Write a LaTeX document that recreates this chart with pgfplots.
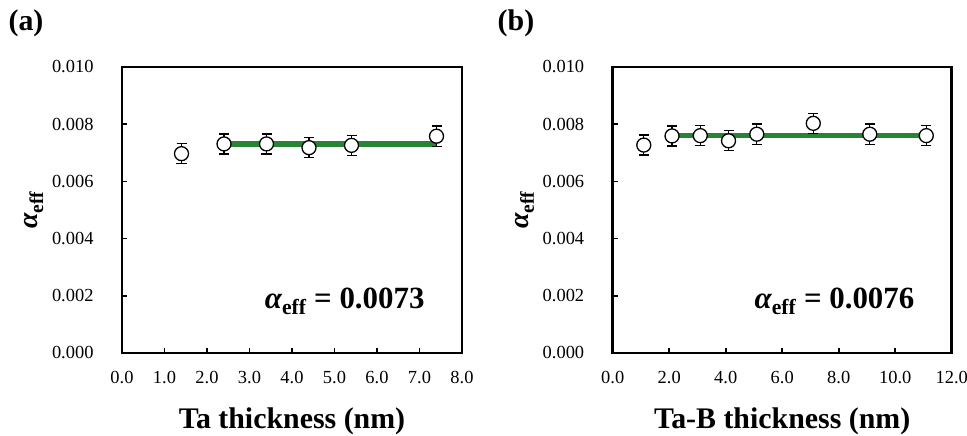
\documentclass[border=0pt]{standalone}
\usepackage{pgfplots}
\pgfplotsset{compat=1.18}
\usepackage{fontspec}
\setmainfont{Liberation Serif}
\definecolor{fitgreen}{RGB}{40,132,52}
\begin{document}
\begin{tikzpicture}
\useasboundingbox (0,0) rectangle (967bp,436bp);
\pgfplotsset{
  panel/.style={
    scale only axis, height=286bp,
    ymin=0, ymax=0.010,
    ytick={0,0.002,0.004,0.006,0.008,0.010},
    scaled y ticks=false, scaled x ticks=false,
    yticklabel style={/pgf/number format/fixed, /pgf/number format/zerofill, /pgf/number format/precision=3, xshift=-25bp},
    xticklabel style={/pgf/number format/fixed, /pgf/number format/zerofill, /pgf/number format/precision=1, yshift=-15bp},
    /pgf/number format/assume math mode=true,
    ticklabel style={font=\fontsize{18.5}{20}\selectfont},
    tick pos=left, tick align=inside, major tick length=5bp,
    tick style={line width=1.6bp, black},
    axis line style={line width=2.6bp},
    xlabel style={at={(axis description cs:0.5,0)}, anchor=base, yshift=-75bp, font=\fontsize{30}{34}\selectfont\bfseries},
    ylabel style={at={(axis description cs:0,0.5)}, anchor=base, yshift=84bp, font=\fontsize{28}{32}\selectfont\bfseries},
    ylabel={{\itshape α}\textsubscript{\upshape eff}},
    clip=false,
  },
  pts/.style={only marks, mark=*, mark size=7bp,
    mark options={fill=white, draw=black, line width=1.3bp},
    error bars/.cd, y dir=both, y explicit,
    error bar style={line width=1.4bp, black},
    error mark options={rotate=90, mark size=5bp, line width=1.4bp, black}},
}
\begin{axis}[panel, at={(122bp,83bp)}, anchor=south west, width=340bp,
  xmin=0, xmax=8, xtick={0,1,...,8}, xlabel={Ta thickness (nm)}]
\addplot[fitgreen, line width=5.5bp, forget plot] coordinates {(2.4,0.0073) (7.4,0.0073)};
\addplot[pts] coordinates {
 (1.4,0.00697) +- (0,0.00035)
 (2.4,0.00731) +- (0,0.00035)
 (3.4,0.00731) +- (0,0.00035)
 (4.4,0.00718) +- (0,0.00035)
 (5.4,0.00726) +- (0,0.00035)
 (7.4,0.00758) +- (0,0.00035)
};
\node[anchor=base east, font=\fontsize{31}{35}\selectfont\bfseries] at (axis cs:7.2,0.00157) {{\itshape α}\textsubscript{\upshape eff} = 0.0073};
\end{axis}
\begin{axis}[panel, at={(612.7bp,83bp)}, anchor=south west, width=339bp,
  xmin=0, xmax=12, xtick={0,2,...,12}, xlabel={Ta-B thickness (nm)}]
\addplot[fitgreen, line width=5.5bp, forget plot] coordinates {(2.1,0.0076) (11.1,0.0076)};
\addplot[pts] coordinates {
 (1.1,0.00727) +- (0,0.00035)
 (2.1,0.00759) +- (0,0.00035)
 (3.1,0.00760) +- (0,0.00035)
 (4.1,0.00742) +- (0,0.00035)
 (5.1,0.00765) +- (0,0.00035)
 (7.1,0.00803) +- (0,0.00035)
 (9.1,0.00765) +- (0,0.00035)
 (11.1,0.00760) +- (0,0.00035)
};
\node[anchor=base east, font=\fontsize{31}{35}\selectfont\bfseries] at (axis cs:10.8,0.00157) {{\itshape α}\textsubscript{\upshape eff} = 0.0076};
\end{axis}
\node[anchor=base, font=\fontsize{30}{34}\selectfont\bfseries] at (26bp,405bp) {(a)};
\node[anchor=base, font=\fontsize{30}{34}\selectfont\bfseries] at (516bp,405bp) {(b)};
\end{tikzpicture}
\end{document}
